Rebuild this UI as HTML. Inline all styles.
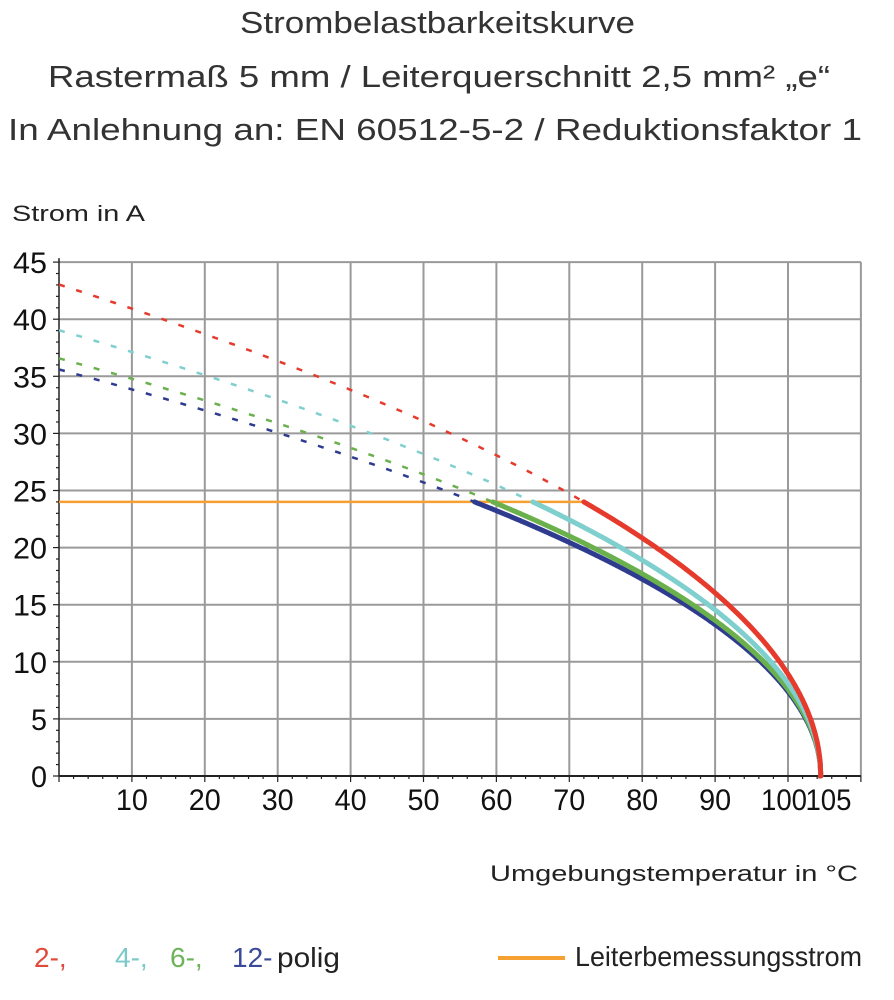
<!DOCTYPE html>
<html><head><meta charset="utf-8"><style>
html,body{margin:0;padding:0;background:#fff;}
svg{display:block;font-family:"Liberation Sans",sans-serif;}
</style></head><body>
<svg id="s" width="894" height="1000" viewBox="0 0 894 1000">
<g fill="#333" font-size="31">
<text x="240" y="33" textLength="395" lengthAdjust="spacingAndGlyphs">Strombelastbarkeitskurve</text>
<text x="48" y="87" textLength="782" lengthAdjust="spacingAndGlyphs">Rastermaß 5 mm / Leiterquerschnitt 2,5 mm² „e“</text>
<text x="8" y="140" textLength="854" lengthAdjust="spacingAndGlyphs">In Anlehnung an: EN 60512-5-2 / Reduktionsfaktor 1</text>
</g>
<text x="12" y="221" font-size="22" fill="#222" textLength="133" lengthAdjust="spacingAndGlyphs">Strom in A</text>
<g id="grid" stroke="#9a9a9a" stroke-width="2" fill="none"></g>
<g id="ticks" stroke="#222" stroke-width="1.2"></g>
<g id="curves" fill="none"></g>
<g id="labels" font-size="30" fill="#111"></g>
<text x="858" y="881" font-size="22" fill="#222" text-anchor="end" textLength="368" lengthAdjust="spacingAndGlyphs">Umgebungstemperatur in °C</text>
<g font-size="28">
<text x="34" y="967" fill="#e04a3c">2-,</text>
<text x="115" y="967" fill="#7cc9c9">4-,</text>
<text x="170" y="967" fill="#6db35a">6-,</text>
<text x="232" y="967" fill="#3a4a98">12-</text>
<text x="277" y="967" fill="#222" textLength="63" lengthAdjust="spacingAndGlyphs">polig</text>
<text x="575" y="966" fill="#222" textLength="287" lengthAdjust="spacingAndGlyphs">Leiterbemessungsstrom</text>
</g>
<line x1="498" y1="958" x2="565" y2="958" stroke="#f5a030" stroke-width="4"/>
</svg>
<script>
var NS="http://www.w3.org/2000/svg";
function X(t){return 59+t*7.29;}function Y(a){return 776-a*11.42;}
function el(p,n,at){var e=document.createElementNS(NS,n);for(var k in at)e.setAttribute(k,at[k]);document.getElementById(p).appendChild(e);return e;}
for(var t=10;t<=110;t+=10)el("grid","line",{x1:X(t),y1:Y(45),x2:X(t),y2:Y(0)});
for(var a=5;a<=45;a+=5)el("grid","line",{x1:X(0),y1:Y(a),x2:X(110),y2:Y(a)});
el("ticks","line",{x1:X(0),y1:Y(0),x2:X(110),y2:Y(0),"stroke-width":2});
el("ticks","line",{x1:X(0),y1:Y(0),x2:X(0),y2:Y(45)-4,"stroke-width":1.5});
for(var a=0;a<=45;a++)el("ticks","line",{x1:X(0)-(a%5?3:6),y1:Y(a),x2:X(0),y2:Y(a)});
for(var t=0;t<=110;t+=2)el("ticks","line",{x1:X(t),y1:Y(0),x2:X(t),y2:Y(0)+(t%10?3:6)});
[0,5,10,15,20,25,30,35,40,45].forEach(function(a){var w=a<10?16:34;var e=el("labels","text",{x:47-w,y:Y(a)+11,textLength:w,lengthAdjust:"spacingAndGlyphs"});e.textContent=a;});
[10,20,30,40,50,60,70,80,90,100].forEach(function(t){var w=t==100?46:32;var cx=X(t)-(t==100?4:0);var e=el("labels","text",{x:cx-w/2,y:810,textLength:w,lengthAdjust:"spacingAndGlyphs"});e.textContent=t;});
var e=el("labels","text",{x:X(105)+4-23,y:810,textLength:46,lengthAdjust:"spacingAndGlyphs"});e.textContent="105";
var E=104.5;
var ser=[["#2e3b8f",57],["#6ab04c",59.5],["#7fcfcf",65],["#e53a2c",72]];
el("curves","line",{x1:X(0),y1:Y(24),x2:X(72),y2:Y(24),stroke:"#f5a030","stroke-width":2.5});
ser.forEach(function(s){var a=24/Math.sqrt(E-s[1]);
 var d="";for(var t=0;t<=s[1];t+=0.5){d+=(t?"L":"M")+X(t).toFixed(1)+","+Y(a*Math.sqrt(E-t)).toFixed(1);}
 el("curves","path",{d:d,stroke:s[0],"stroke-width":2.5,"stroke-dasharray":"6 12"});
 d="";for(var t=s[1];t<=E;t+=0.1){d+=(t==s[1]?"M":"L")+X(t).toFixed(1)+","+Y(a*Math.sqrt(Math.max(0,E-t))).toFixed(1);}
 d+="L"+X(E)+","+Y(0);
 el("curves","path",{d:d,stroke:s[0],"stroke-width":5,"stroke-linecap":"round"});
});
</script>
</body></html>
